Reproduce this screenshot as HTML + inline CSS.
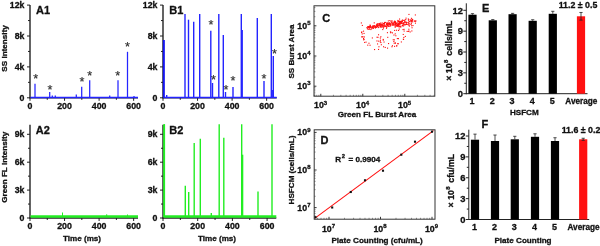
<!DOCTYPE html>
<html><head><meta charset="utf-8"><style>
html,body{margin:0;padding:0;background:#fff;}
svg{display:block;will-change:transform;filter:blur(0.35px);font-family:"Liberation Sans",sans-serif;font-weight:bold;}
text{stroke:#111;stroke-width:0.3px;}
</style></head><body>
<svg width="600" height="246" viewBox="0 0 600 246">
<rect width="600" height="246" fill="#fff"/>
<line x1="30" y1="5" x2="30" y2="98.3" stroke="#222" stroke-width="1.4" />
<line x1="27" y1="97.8" x2="30" y2="97.8" stroke="#222" stroke-width="1" />
<text x="24.5" y="100.8" font-size="8.8" text-anchor="end" fill="#111" >0</text>
<line x1="28" y1="82.35" x2="30" y2="82.35" stroke="#222" stroke-width="1" />
<line x1="27" y1="66.9" x2="30" y2="66.9" stroke="#222" stroke-width="1" />
<text x="24.5" y="69.9" font-size="8.8" text-anchor="end" fill="#111" >4k</text>
<line x1="28" y1="51.45" x2="30" y2="51.45" stroke="#222" stroke-width="1" />
<line x1="27" y1="36.0" x2="30" y2="36.0" stroke="#222" stroke-width="1" />
<text x="24.5" y="39.0" font-size="8.8" text-anchor="end" fill="#111" >8k</text>
<line x1="28" y1="20.55" x2="30" y2="20.55" stroke="#222" stroke-width="1" />
<line x1="27" y1="5.1000000000000085" x2="30" y2="5.1000000000000085" stroke="#222" stroke-width="1" />
<text x="24.5" y="8.100000000000009" font-size="8.8" text-anchor="end" fill="#111" >12k</text>
<line x1="29.5" y1="97.8" x2="138" y2="97.8" stroke="#222" stroke-width="1.3" />
<line x1="30.0" y1="97.8" x2="30.0" y2="100.8" stroke="#222" stroke-width="1" />
<line x1="47.275" y1="97.8" x2="47.275" y2="99.8" stroke="#222" stroke-width="1" />
<text x="30.0" y="109.0" font-size="8.8" text-anchor="middle" fill="#111" >0</text>
<line x1="64.55" y1="97.8" x2="64.55" y2="100.8" stroke="#222" stroke-width="1" />
<line x1="81.82499999999999" y1="97.8" x2="81.82499999999999" y2="99.8" stroke="#222" stroke-width="1" />
<text x="64.55" y="109.0" font-size="8.8" text-anchor="middle" fill="#111" >200</text>
<line x1="99.1" y1="97.8" x2="99.1" y2="100.8" stroke="#222" stroke-width="1" />
<line x1="116.375" y1="97.8" x2="116.375" y2="99.8" stroke="#222" stroke-width="1" />
<text x="99.1" y="109.0" font-size="8.8" text-anchor="middle" fill="#111" >400</text>
<line x1="133.64999999999998" y1="97.8" x2="133.64999999999998" y2="100.8" stroke="#222" stroke-width="1" />
<text x="133.64999999999998" y="109.0" font-size="8.8" text-anchor="middle" fill="#111" >600</text>
<line x1="30.5" y1="97.4" x2="138" y2="97.4" stroke="#2424ff" stroke-width="1.5" />
<line x1="35" y1="97.8" x2="35" y2="83.7" stroke="#2424ff" stroke-width="1.25" />
<line x1="49.7" y1="97.8" x2="49.7" y2="92" stroke="#2424ff" stroke-width="1.25" />
<line x1="52.3" y1="97.8" x2="52.3" y2="95.6" stroke="#2424ff" stroke-width="1.25" />
<line x1="55.3" y1="97.8" x2="55.3" y2="95.6" stroke="#2424ff" stroke-width="1.25" />
<line x1="76.3" y1="97.8" x2="76.3" y2="94.5" stroke="#2424ff" stroke-width="1.25" />
<line x1="81.7" y1="97.8" x2="81.7" y2="86.7" stroke="#2424ff" stroke-width="1.25" />
<line x1="89.7" y1="97.8" x2="89.7" y2="80.2" stroke="#2424ff" stroke-width="1.25" />
<line x1="109.7" y1="97.8" x2="109.7" y2="95.5" stroke="#2424ff" stroke-width="1.25" />
<line x1="118" y1="97.8" x2="118" y2="80.2" stroke="#2424ff" stroke-width="1.25" />
<line x1="127.5" y1="97.8" x2="127.5" y2="51.8" stroke="#2424ff" stroke-width="1.25" />
<line x1="134" y1="97.8" x2="134" y2="96" stroke="#2424ff" stroke-width="1.25" />
<text x="35.7" y="82.6" font-size="12.8" text-anchor="middle" fill="#333" font-weight="normal" style="stroke-width:0.12px">*</text>
<text x="50" y="93.6" font-size="12.8" text-anchor="middle" fill="#333" font-weight="normal" style="stroke-width:0.12px">*</text>
<text x="82" y="86.3" font-size="12.8" text-anchor="middle" fill="#333" font-weight="normal" style="stroke-width:0.12px">*</text>
<text x="89.7" y="80.1" font-size="12.8" text-anchor="middle" fill="#333" font-weight="normal" style="stroke-width:0.12px">*</text>
<text x="117.8" y="79.6" font-size="12.8" text-anchor="middle" fill="#333" font-weight="normal" style="stroke-width:0.12px">*</text>
<text x="127.5" y="51.300000000000004" font-size="12.8" text-anchor="middle" fill="#333" font-weight="normal" style="stroke-width:0.12px">*</text>
<text x="36.0" y="13.6" font-size="11.0" text-anchor="start" fill="#111" >A1</text>
<text transform="translate(7.0,48.5) rotate(-90)" font-size="8.1" text-anchor="middle" fill="#111">SS Intensity</text>
<line x1="163" y1="5" x2="163" y2="98.3" stroke="#222" stroke-width="1.4" />
<line x1="160" y1="97.8" x2="163" y2="97.8" stroke="#222" stroke-width="1" />
<text x="157.5" y="100.8" font-size="8.8" text-anchor="end" fill="#111" >0</text>
<line x1="161" y1="82.35" x2="163" y2="82.35" stroke="#222" stroke-width="1" />
<line x1="160" y1="66.9" x2="163" y2="66.9" stroke="#222" stroke-width="1" />
<text x="157.5" y="69.9" font-size="8.8" text-anchor="end" fill="#111" >4k</text>
<line x1="161" y1="51.45" x2="163" y2="51.45" stroke="#222" stroke-width="1" />
<line x1="160" y1="36.0" x2="163" y2="36.0" stroke="#222" stroke-width="1" />
<text x="157.5" y="39.0" font-size="8.8" text-anchor="end" fill="#111" >8k</text>
<line x1="161" y1="20.55" x2="163" y2="20.55" stroke="#222" stroke-width="1" />
<line x1="160" y1="5.1000000000000085" x2="163" y2="5.1000000000000085" stroke="#222" stroke-width="1" />
<text x="157.5" y="8.100000000000009" font-size="8.8" text-anchor="end" fill="#111" >12k</text>
<line x1="162.5" y1="97.8" x2="276.7" y2="97.8" stroke="#222" stroke-width="1.3" />
<line x1="163.0" y1="97.8" x2="163.0" y2="100.8" stroke="#222" stroke-width="1" />
<line x1="180.275" y1="97.8" x2="180.275" y2="99.8" stroke="#222" stroke-width="1" />
<text x="163.0" y="109.0" font-size="8.8" text-anchor="middle" fill="#111" >0</text>
<line x1="197.55" y1="97.8" x2="197.55" y2="100.8" stroke="#222" stroke-width="1" />
<line x1="214.82500000000002" y1="97.8" x2="214.82500000000002" y2="99.8" stroke="#222" stroke-width="1" />
<text x="197.55" y="109.0" font-size="8.8" text-anchor="middle" fill="#111" >200</text>
<line x1="232.1" y1="97.8" x2="232.1" y2="100.8" stroke="#222" stroke-width="1" />
<line x1="249.375" y1="97.8" x2="249.375" y2="99.8" stroke="#222" stroke-width="1" />
<text x="232.1" y="109.0" font-size="8.8" text-anchor="middle" fill="#111" >400</text>
<line x1="266.65" y1="97.8" x2="266.65" y2="100.8" stroke="#222" stroke-width="1" />
<text x="266.65" y="109.0" font-size="8.8" text-anchor="middle" fill="#111" >600</text>
<line x1="163.5" y1="97.4" x2="276.7" y2="97.4" stroke="#2424ff" stroke-width="1.5" />
<line x1="163.7" y1="97.8" x2="163.7" y2="40" stroke="#2424ff" stroke-width="1.4" />
<line x1="166.7" y1="97.8" x2="166.7" y2="95" stroke="#2424ff" stroke-width="1.4" />
<line x1="185" y1="97.8" x2="185" y2="14" stroke="#2424ff" stroke-width="1.4" />
<line x1="188.5" y1="97.8" x2="188.5" y2="19.7" stroke="#2424ff" stroke-width="1.4" />
<line x1="193.7" y1="97.8" x2="193.7" y2="21.7" stroke="#2424ff" stroke-width="1.4" />
<line x1="199.7" y1="97.8" x2="199.7" y2="14" stroke="#2424ff" stroke-width="1.4" />
<line x1="210.8" y1="97.8" x2="210.8" y2="30.8" stroke="#2424ff" stroke-width="1.4" />
<line x1="212.5" y1="97.8" x2="212.5" y2="83" stroke="#2424ff" stroke-width="1.4" />
<line x1="218.8" y1="97.8" x2="218.8" y2="14" stroke="#2424ff" stroke-width="1.4" />
<line x1="223.3" y1="97.8" x2="223.3" y2="35" stroke="#2424ff" stroke-width="1.4" />
<line x1="225.5" y1="97.8" x2="225.5" y2="92" stroke="#2424ff" stroke-width="1.4" />
<line x1="233" y1="97.8" x2="233" y2="87" stroke="#2424ff" stroke-width="1.4" />
<line x1="241.3" y1="97.8" x2="241.3" y2="14" stroke="#2424ff" stroke-width="1.4" />
<line x1="242.2" y1="97.8" x2="242.2" y2="30" stroke="#2424ff" stroke-width="1.4" />
<line x1="257.3" y1="97.8" x2="257.3" y2="18" stroke="#2424ff" stroke-width="1.4" />
<line x1="264" y1="97.8" x2="264" y2="81" stroke="#2424ff" stroke-width="1.4" />
<line x1="271.3" y1="97.8" x2="271.3" y2="14" stroke="#2424ff" stroke-width="1.4" />
<line x1="272.2" y1="97.8" x2="272.2" y2="90" stroke="#2424ff" stroke-width="1.4" />
<line x1="273.3" y1="97.8" x2="273.3" y2="56" stroke="#2424ff" stroke-width="1.4" />
<line x1="163.8" y1="40" x2="163.8" y2="97.8" stroke="#1414f0" stroke-width="1.9" />
<text x="211" y="28.6" font-size="12.8" text-anchor="middle" fill="#333" font-weight="normal" style="stroke-width:0.12px">*</text>
<text x="213.5" y="83.6" font-size="12.8" text-anchor="middle" fill="#333" font-weight="normal" style="stroke-width:0.12px">*</text>
<text x="226" y="93.6" font-size="12.8" text-anchor="middle" fill="#333" font-weight="normal" style="stroke-width:0.12px">*</text>
<text x="233" y="84.6" font-size="12.8" text-anchor="middle" fill="#333" font-weight="normal" style="stroke-width:0.12px">*</text>
<text x="264" y="82.6" font-size="12.8" text-anchor="middle" fill="#333" font-weight="normal" style="stroke-width:0.12px">*</text>
<text x="274.5" y="57.6" font-size="12.8" text-anchor="middle" fill="#333" font-weight="normal" style="stroke-width:0.12px">*</text>
<text x="169.2" y="13.6" font-size="11.0" text-anchor="start" fill="#111" >B1</text>
<line x1="30" y1="124.7" x2="30" y2="218.5" stroke="#222" stroke-width="1.4" />
<line x1="27" y1="218.0" x2="30" y2="218.0" stroke="#222" stroke-width="1" />
<text x="24.5" y="221.0" font-size="8.8" text-anchor="end" fill="#111" >0</text>
<line x1="28" y1="204.05" x2="30" y2="204.05" stroke="#222" stroke-width="1" />
<line x1="27" y1="190.1" x2="30" y2="190.1" stroke="#222" stroke-width="1" />
<text x="24.5" y="193.1" font-size="8.8" text-anchor="end" fill="#111" >3k</text>
<line x1="28" y1="176.15" x2="30" y2="176.15" stroke="#222" stroke-width="1" />
<line x1="27" y1="162.2" x2="30" y2="162.2" stroke="#222" stroke-width="1" />
<text x="24.5" y="165.2" font-size="8.8" text-anchor="end" fill="#111" >6k</text>
<line x1="28" y1="148.25" x2="30" y2="148.25" stroke="#222" stroke-width="1" />
<line x1="27" y1="134.3" x2="30" y2="134.3" stroke="#222" stroke-width="1" />
<text x="24.5" y="137.3" font-size="8.8" text-anchor="end" fill="#111" >9k</text>
<line x1="29.5" y1="218" x2="138" y2="218" stroke="#222" stroke-width="1.3" />
<line x1="30.0" y1="218" x2="30.0" y2="221" stroke="#222" stroke-width="1" />
<line x1="47.275" y1="218" x2="47.275" y2="220" stroke="#222" stroke-width="1" />
<text x="30.0" y="229.2" font-size="8.8" text-anchor="middle" fill="#111" >0</text>
<line x1="64.55" y1="218" x2="64.55" y2="221" stroke="#222" stroke-width="1" />
<line x1="81.82499999999999" y1="218" x2="81.82499999999999" y2="220" stroke="#222" stroke-width="1" />
<text x="64.55" y="229.2" font-size="8.8" text-anchor="middle" fill="#111" >200</text>
<line x1="99.1" y1="218" x2="99.1" y2="221" stroke="#222" stroke-width="1" />
<line x1="116.375" y1="218" x2="116.375" y2="220" stroke="#222" stroke-width="1" />
<text x="99.1" y="229.2" font-size="8.8" text-anchor="middle" fill="#111" >400</text>
<line x1="133.64999999999998" y1="218" x2="133.64999999999998" y2="221" stroke="#222" stroke-width="1" />
<text x="133.64999999999998" y="229.2" font-size="8.8" text-anchor="middle" fill="#111" >600</text>
<line x1="30.5" y1="216.5" x2="138" y2="216.5" stroke="#22ee22" stroke-width="2.3" />
<line x1="62.5" y1="217" x2="62.5" y2="212.5" stroke="#22ee22" stroke-width="1" />
<line x1="106.7" y1="217" x2="106.7" y2="214.3" stroke="#22ee22" stroke-width="1" />
<line x1="127.5" y1="217" x2="127.5" y2="214.5" stroke="#22ee22" stroke-width="1" />
<text x="35.7" y="134.3" font-size="11.0" text-anchor="start" fill="#111" >A2</text>
<text transform="translate(7.3,167.3) rotate(-90)" font-size="8.1" text-anchor="middle" fill="#111">Green FL Intensity</text>
<text x="82" y="241.3" font-size="8.1" text-anchor="middle" fill="#111" >Time (ms)</text>
<line x1="163" y1="124.7" x2="163" y2="218.5" stroke="#222" stroke-width="1.4" />
<line x1="160" y1="218.0" x2="163" y2="218.0" stroke="#222" stroke-width="1" />
<text x="157.5" y="221.0" font-size="8.8" text-anchor="end" fill="#111" >0</text>
<line x1="161" y1="204.05" x2="163" y2="204.05" stroke="#222" stroke-width="1" />
<line x1="160" y1="190.1" x2="163" y2="190.1" stroke="#222" stroke-width="1" />
<text x="157.5" y="193.1" font-size="8.8" text-anchor="end" fill="#111" >3k</text>
<line x1="161" y1="176.15" x2="163" y2="176.15" stroke="#222" stroke-width="1" />
<line x1="160" y1="162.2" x2="163" y2="162.2" stroke="#222" stroke-width="1" />
<text x="157.5" y="165.2" font-size="8.8" text-anchor="end" fill="#111" >6k</text>
<line x1="161" y1="148.25" x2="163" y2="148.25" stroke="#222" stroke-width="1" />
<line x1="160" y1="134.3" x2="163" y2="134.3" stroke="#222" stroke-width="1" />
<text x="157.5" y="137.3" font-size="8.8" text-anchor="end" fill="#111" >9k</text>
<line x1="162.5" y1="218" x2="276.3" y2="218" stroke="#222" stroke-width="1.3" />
<line x1="163.0" y1="218" x2="163.0" y2="221" stroke="#222" stroke-width="1" />
<line x1="180.35" y1="218" x2="180.35" y2="220" stroke="#222" stroke-width="1" />
<text x="163.0" y="229.2" font-size="8.8" text-anchor="middle" fill="#111" >0</text>
<line x1="197.7" y1="218" x2="197.7" y2="221" stroke="#222" stroke-width="1" />
<line x1="215.04999999999998" y1="218" x2="215.04999999999998" y2="220" stroke="#222" stroke-width="1" />
<text x="197.7" y="229.2" font-size="8.8" text-anchor="middle" fill="#111" >200</text>
<line x1="232.4" y1="218" x2="232.4" y2="221" stroke="#222" stroke-width="1" />
<line x1="249.75" y1="218" x2="249.75" y2="220" stroke="#222" stroke-width="1" />
<text x="232.4" y="229.2" font-size="8.8" text-anchor="middle" fill="#111" >400</text>
<line x1="267.1" y1="218" x2="267.1" y2="221" stroke="#222" stroke-width="1" />
<text x="267.1" y="229.2" font-size="8.8" text-anchor="middle" fill="#111" >600</text>
<line x1="163.5" y1="216.5" x2="276.3" y2="216.5" stroke="#22ee22" stroke-width="2.3" />
<line x1="164.3" y1="217" x2="164.3" y2="124.3" stroke="#22ee22" stroke-width="1.4" />
<line x1="185.3" y1="217" x2="185.3" y2="185.7" stroke="#22ee22" stroke-width="1.4" />
<line x1="188.7" y1="217" x2="188.7" y2="192" stroke="#22ee22" stroke-width="1.4" />
<line x1="194.2" y1="217" x2="194.2" y2="143" stroke="#22ee22" stroke-width="1.4" />
<line x1="200.3" y1="217" x2="200.3" y2="138.8" stroke="#22ee22" stroke-width="1.4" />
<line x1="211.3" y1="217" x2="211.3" y2="213" stroke="#22ee22" stroke-width="1.4" />
<line x1="219.2" y1="217" x2="219.2" y2="124.3" stroke="#22ee22" stroke-width="1.4" />
<line x1="223.8" y1="217" x2="223.8" y2="137.7" stroke="#22ee22" stroke-width="1.4" />
<line x1="241.7" y1="217" x2="241.7" y2="124.3" stroke="#22ee22" stroke-width="1.4" />
<line x1="242.6" y1="217" x2="242.6" y2="154.7" stroke="#22ee22" stroke-width="1.4" />
<line x1="258" y1="217" x2="258" y2="191.5" stroke="#22ee22" stroke-width="1.4" />
<line x1="272" y1="217" x2="272" y2="124.3" stroke="#22ee22" stroke-width="1.4" />
<line x1="164.2" y1="124.3" x2="164.2" y2="217" stroke="#22ee22" stroke-width="1.8" />
<text x="169.2" y="133.8" font-size="11.0" text-anchor="start" fill="#111" >B2</text>
<text x="217" y="241.3" font-size="8.1" text-anchor="middle" fill="#111" >Time (ms)</text>
<rect x="314" y="5.8" width="120.80000000000001" height="90.4" fill="none" stroke="#333" stroke-width="1"/>
<line x1="320.8" y1="96.2" x2="320.8" y2="93.8" stroke="#222" stroke-width="0.9" />
<text x="320.6" y="108.4" font-size="8.8" text-anchor="middle" fill="#111">10<tspan dy="-3.8" font-size="6">3</tspan></text>
<line x1="314" y1="86.2" x2="316.4" y2="86.2" stroke="#222" stroke-width="0.9" />
<text x="310.5" y="89.10000000000001" font-size="8.8" text-anchor="end" fill="#111">10<tspan dy="-3.8" font-size="6">3</tspan></text>
<line x1="362.8" y1="96.2" x2="362.8" y2="93.8" stroke="#222" stroke-width="0.9" />
<text x="362.6" y="108.4" font-size="8.8" text-anchor="middle" fill="#111">10<tspan dy="-3.8" font-size="6">4</tspan></text>
<line x1="314" y1="56.0" x2="316.4" y2="56.0" stroke="#222" stroke-width="0.9" />
<text x="310.5" y="58.9" font-size="8.8" text-anchor="end" fill="#111">10<tspan dy="-3.8" font-size="6">4</tspan></text>
<line x1="404.8" y1="96.2" x2="404.8" y2="93.8" stroke="#222" stroke-width="0.9" />
<text x="404.6" y="108.4" font-size="8.8" text-anchor="middle" fill="#111">10<tspan dy="-3.8" font-size="6">5</tspan></text>
<line x1="314" y1="25.800000000000004" x2="316.4" y2="25.800000000000004" stroke="#222" stroke-width="0.9" />
<text x="310.5" y="28.700000000000003" font-size="8.8" text-anchor="end" fill="#111">10<tspan dy="-3.8" font-size="6">5</tspan></text>
<line x1="314" y1="95.29110586905223" x2="315.4" y2="95.29110586905223" stroke="#444" stroke-width="0.6" />
<line x1="314" y1="92.89983223841396" x2="315.4" y2="92.89983223841396" stroke="#444" stroke-width="0.6" />
<line x1="314.2941176805988" y1="96.2" x2="314.2941176805988" y2="94.8" stroke="#444" stroke-width="0.6" />
<line x1="314" y1="90.87803919156944" x2="315.4" y2="90.87803919156944" stroke="#444" stroke-width="0.6" />
<line x1="316.72977945366165" y1="96.2" x2="316.72977945366165" y2="94.8" stroke="#444" stroke-width="0.6" />
<line x1="314" y1="89.1266823928433" x2="315.4" y2="89.1266823928433" stroke="#444" stroke-width="0.6" />
<line x1="318.87818539645167" y1="96.2" x2="318.87818539645167" y2="94.8" stroke="#444" stroke-width="0.6" />
<line x1="314" y1="87.5818762149324" x2="315.4" y2="87.5818762149324" stroke="#444" stroke-width="0.6" />
<line x1="333.4432598178872" y1="96.2" x2="333.4432598178872" y2="94.8" stroke="#444" stroke-width="0.6" />
<line x1="314" y1="77.10889413094777" x2="315.4" y2="77.10889413094777" stroke="#444" stroke-width="0.6" />
<line x1="340.83909269822584" y1="96.2" x2="340.83909269822584" y2="94.8" stroke="#444" stroke-width="0.6" />
<line x1="314" y1="71.7909381074662" x2="315.4" y2="71.7909381074662" stroke="#444" stroke-width="0.6" />
<line x1="346.08651963577444" y1="96.2" x2="346.08651963577444" y2="94.8" stroke="#444" stroke-width="0.6" />
<line x1="314" y1="68.01778826189553" x2="315.4" y2="68.01778826189553" stroke="#444" stroke-width="0.6" />
<line x1="350.1567401821128" y1="96.2" x2="350.1567401821128" y2="94.8" stroke="#444" stroke-width="0.6" />
<line x1="314" y1="65.09110586905223" x2="315.4" y2="65.09110586905223" stroke="#444" stroke-width="0.6" />
<line x1="353.48235251611305" y1="96.2" x2="353.48235251611305" y2="94.8" stroke="#444" stroke-width="0.6" />
<line x1="314" y1="62.69983223841396" x2="315.4" y2="62.69983223841396" stroke="#444" stroke-width="0.6" />
<line x1="356.2941176805988" y1="96.2" x2="356.2941176805988" y2="94.8" stroke="#444" stroke-width="0.6" />
<line x1="314" y1="60.67803919156945" x2="315.4" y2="60.67803919156945" stroke="#444" stroke-width="0.6" />
<line x1="358.72977945366165" y1="96.2" x2="358.72977945366165" y2="94.8" stroke="#444" stroke-width="0.6" />
<line x1="314" y1="58.926682392843304" x2="315.4" y2="58.926682392843304" stroke="#444" stroke-width="0.6" />
<line x1="360.87818539645167" y1="96.2" x2="360.87818539645167" y2="94.8" stroke="#444" stroke-width="0.6" />
<line x1="314" y1="57.38187621493239" x2="315.4" y2="57.38187621493239" stroke="#444" stroke-width="0.6" />
<line x1="375.4432598178872" y1="96.2" x2="375.4432598178872" y2="94.8" stroke="#444" stroke-width="0.6" />
<line x1="314" y1="46.90889413094777" x2="315.4" y2="46.90889413094777" stroke="#444" stroke-width="0.6" />
<line x1="382.83909269822584" y1="96.2" x2="382.83909269822584" y2="94.8" stroke="#444" stroke-width="0.6" />
<line x1="314" y1="41.5909381074662" x2="315.4" y2="41.5909381074662" stroke="#444" stroke-width="0.6" />
<line x1="388.08651963577444" y1="96.2" x2="388.08651963577444" y2="94.8" stroke="#444" stroke-width="0.6" />
<line x1="314" y1="37.81778826189554" x2="315.4" y2="37.81778826189554" stroke="#444" stroke-width="0.6" />
<line x1="392.1567401821128" y1="96.2" x2="392.1567401821128" y2="94.8" stroke="#444" stroke-width="0.6" />
<line x1="314" y1="34.89110586905224" x2="315.4" y2="34.89110586905224" stroke="#444" stroke-width="0.6" />
<line x1="395.48235251611305" y1="96.2" x2="395.48235251611305" y2="94.8" stroke="#444" stroke-width="0.6" />
<line x1="314" y1="32.499832238413966" x2="315.4" y2="32.499832238413966" stroke="#444" stroke-width="0.6" />
<line x1="398.2941176805988" y1="96.2" x2="398.2941176805988" y2="94.8" stroke="#444" stroke-width="0.6" />
<line x1="314" y1="30.478039191569444" x2="315.4" y2="30.478039191569444" stroke="#444" stroke-width="0.6" />
<line x1="400.72977945366165" y1="96.2" x2="400.72977945366165" y2="94.8" stroke="#444" stroke-width="0.6" />
<line x1="314" y1="28.72668239284331" x2="315.4" y2="28.72668239284331" stroke="#444" stroke-width="0.6" />
<line x1="402.87818539645167" y1="96.2" x2="402.87818539645167" y2="94.8" stroke="#444" stroke-width="0.6" />
<line x1="314" y1="27.181876214932394" x2="315.4" y2="27.181876214932394" stroke="#444" stroke-width="0.6" />
<line x1="417.4432598178872" y1="96.2" x2="417.4432598178872" y2="94.8" stroke="#444" stroke-width="0.6" />
<line x1="314" y1="16.70889413094777" x2="315.4" y2="16.70889413094777" stroke="#444" stroke-width="0.6" />
<line x1="424.83909269822584" y1="96.2" x2="424.83909269822584" y2="94.8" stroke="#444" stroke-width="0.6" />
<line x1="314" y1="11.390938107466198" x2="315.4" y2="11.390938107466198" stroke="#444" stroke-width="0.6" />
<line x1="430.08651963577444" y1="96.2" x2="430.08651963577444" y2="94.8" stroke="#444" stroke-width="0.6" />
<line x1="314" y1="7.617788261895541" x2="315.4" y2="7.617788261895541" stroke="#444" stroke-width="0.6" />
<line x1="434.1567401821128" y1="96.2" x2="434.1567401821128" y2="94.8" stroke="#444" stroke-width="0.6" />
<rect x="377.4" y="24.3" width="1.1" height="1.1" fill="#ff1111"/>
<rect x="383.6" y="24.3" width="1.1" height="1.1" fill="#ff1111"/>
<rect x="394.1" y="20.6" width="1.1" height="1.1" fill="#ff1111"/>
<rect x="397.3" y="19.9" width="1.1" height="1.1" fill="#ff1111"/>
<rect x="387.9" y="23.1" width="1.1" height="1.1" fill="#ff1111"/>
<rect x="401.2" y="21.0" width="1.1" height="1.1" fill="#ff1111"/>
<rect x="395.0" y="21.8" width="1.1" height="1.1" fill="#ff1111"/>
<rect x="400.5" y="22.9" width="1.1" height="1.1" fill="#ff1111"/>
<rect x="380.6" y="25.5" width="1.1" height="1.1" fill="#ff1111"/>
<rect x="392.6" y="23.3" width="1.1" height="1.1" fill="#ff1111"/>
<rect x="368.3" y="27.0" width="1.1" height="1.1" fill="#ff1111"/>
<rect x="389.3" y="23.0" width="1.1" height="1.1" fill="#ff1111"/>
<rect x="397.5" y="25.2" width="1.1" height="1.1" fill="#ff1111"/>
<rect x="392.2" y="24.4" width="1.1" height="1.1" fill="#ff1111"/>
<rect x="371.9" y="27.5" width="1.1" height="1.1" fill="#ff1111"/>
<rect x="375.7" y="26.2" width="1.1" height="1.1" fill="#ff1111"/>
<rect x="371.7" y="26.8" width="1.1" height="1.1" fill="#ff1111"/>
<rect x="381.8" y="22.5" width="1.1" height="1.1" fill="#ff1111"/>
<rect x="381.1" y="24.1" width="1.1" height="1.1" fill="#ff1111"/>
<rect x="367.3" y="26.3" width="1.1" height="1.1" fill="#ff1111"/>
<rect x="375.3" y="26.9" width="1.1" height="1.1" fill="#ff1111"/>
<rect x="394.2" y="21.2" width="1.1" height="1.1" fill="#ff1111"/>
<rect x="379.8" y="25.7" width="1.1" height="1.1" fill="#ff1111"/>
<rect x="390.1" y="23.7" width="1.1" height="1.1" fill="#ff1111"/>
<rect x="394.7" y="22.6" width="1.1" height="1.1" fill="#ff1111"/>
<rect x="398.1" y="23.4" width="1.1" height="1.1" fill="#ff1111"/>
<rect x="374.4" y="26.0" width="1.1" height="1.1" fill="#ff1111"/>
<rect x="368.8" y="26.0" width="1.1" height="1.1" fill="#ff1111"/>
<rect x="385.8" y="25.6" width="1.1" height="1.1" fill="#ff1111"/>
<rect x="386.8" y="22.6" width="1.1" height="1.1" fill="#ff1111"/>
<rect x="390.1" y="25.3" width="1.1" height="1.1" fill="#ff1111"/>
<rect x="389.3" y="20.0" width="1.1" height="1.1" fill="#ff1111"/>
<rect x="380.1" y="25.9" width="1.1" height="1.1" fill="#ff1111"/>
<rect x="370.1" y="26.4" width="1.1" height="1.1" fill="#ff1111"/>
<rect x="384.1" y="22.5" width="1.1" height="1.1" fill="#ff1111"/>
<rect x="401.9" y="19.5" width="1.1" height="1.1" fill="#ff1111"/>
<rect x="400.8" y="20.8" width="1.1" height="1.1" fill="#ff1111"/>
<rect x="377.8" y="27.0" width="1.1" height="1.1" fill="#ff1111"/>
<rect x="369.0" y="27.4" width="1.1" height="1.1" fill="#ff1111"/>
<rect x="380.5" y="26.7" width="1.1" height="1.1" fill="#ff1111"/>
<rect x="389.4" y="23.9" width="1.1" height="1.1" fill="#ff1111"/>
<rect x="388.3" y="25.8" width="1.1" height="1.1" fill="#ff1111"/>
<rect x="379.5" y="22.8" width="1.1" height="1.1" fill="#ff1111"/>
<rect x="384.7" y="25.8" width="1.1" height="1.1" fill="#ff1111"/>
<rect x="408.2" y="22.5" width="1.1" height="1.1" fill="#ff1111"/>
<rect x="396.2" y="24.6" width="1.1" height="1.1" fill="#ff1111"/>
<rect x="398.5" y="22.7" width="1.1" height="1.1" fill="#ff1111"/>
<rect x="392.6" y="24.7" width="1.1" height="1.1" fill="#ff1111"/>
<rect x="388.2" y="22.3" width="1.1" height="1.1" fill="#ff1111"/>
<rect x="380.2" y="25.4" width="1.1" height="1.1" fill="#ff1111"/>
<rect x="397.8" y="23.9" width="1.1" height="1.1" fill="#ff1111"/>
<rect x="369.3" y="26.6" width="1.1" height="1.1" fill="#ff1111"/>
<rect x="372.9" y="27.8" width="1.1" height="1.1" fill="#ff1111"/>
<rect x="379.0" y="23.1" width="1.1" height="1.1" fill="#ff1111"/>
<rect x="375.1" y="25.9" width="1.1" height="1.1" fill="#ff1111"/>
<rect x="405.8" y="23.4" width="1.1" height="1.1" fill="#ff1111"/>
<rect x="402.5" y="23.4" width="1.1" height="1.1" fill="#ff1111"/>
<rect x="387.8" y="20.4" width="1.1" height="1.1" fill="#ff1111"/>
<rect x="380.2" y="25.4" width="1.1" height="1.1" fill="#ff1111"/>
<rect x="373.9" y="25.1" width="1.1" height="1.1" fill="#ff1111"/>
<rect x="403.4" y="19.9" width="1.1" height="1.1" fill="#ff1111"/>
<rect x="383.0" y="22.9" width="1.1" height="1.1" fill="#ff1111"/>
<rect x="382.7" y="24.6" width="1.1" height="1.1" fill="#ff1111"/>
<rect x="397.6" y="23.7" width="1.1" height="1.1" fill="#ff1111"/>
<rect x="372.6" y="26.0" width="1.1" height="1.1" fill="#ff1111"/>
<rect x="388.8" y="22.7" width="1.1" height="1.1" fill="#ff1111"/>
<rect x="400.0" y="23.3" width="1.1" height="1.1" fill="#ff1111"/>
<rect x="387.5" y="23.8" width="1.1" height="1.1" fill="#ff1111"/>
<rect x="394.5" y="22.6" width="1.1" height="1.1" fill="#ff1111"/>
<rect x="398.2" y="20.4" width="1.1" height="1.1" fill="#ff1111"/>
<rect x="374.9" y="27.4" width="1.1" height="1.1" fill="#ff1111"/>
<rect x="383.5" y="25.8" width="1.1" height="1.1" fill="#ff1111"/>
<rect x="379.5" y="26.5" width="1.1" height="1.1" fill="#ff1111"/>
<rect x="381.8" y="24.5" width="1.1" height="1.1" fill="#ff1111"/>
<rect x="366.4" y="27.0" width="1.1" height="1.1" fill="#ff1111"/>
<rect x="369.4" y="27.3" width="1.1" height="1.1" fill="#ff1111"/>
<rect x="378.1" y="25.2" width="1.1" height="1.1" fill="#ff1111"/>
<rect x="394.4" y="20.9" width="1.1" height="1.1" fill="#ff1111"/>
<rect x="405.9" y="23.9" width="1.1" height="1.1" fill="#ff1111"/>
<rect x="401.6" y="20.7" width="1.1" height="1.1" fill="#ff1111"/>
<rect x="378.2" y="23.2" width="1.1" height="1.1" fill="#ff1111"/>
<rect x="397.3" y="21.1" width="1.1" height="1.1" fill="#ff1111"/>
<rect x="383.9" y="22.8" width="1.1" height="1.1" fill="#ff1111"/>
<rect x="389.1" y="23.1" width="1.1" height="1.1" fill="#ff1111"/>
<rect x="395.0" y="22.8" width="1.1" height="1.1" fill="#ff1111"/>
<rect x="404.4" y="21.4" width="1.1" height="1.1" fill="#ff1111"/>
<rect x="386.4" y="22.9" width="1.1" height="1.1" fill="#ff1111"/>
<rect x="378.6" y="25.2" width="1.1" height="1.1" fill="#ff1111"/>
<rect x="398.9" y="22.6" width="1.1" height="1.1" fill="#ff1111"/>
<rect x="401.5" y="20.8" width="1.1" height="1.1" fill="#ff1111"/>
<rect x="386.2" y="22.7" width="1.1" height="1.1" fill="#ff1111"/>
<rect x="404.5" y="21.7" width="1.1" height="1.1" fill="#ff1111"/>
<rect x="397.1" y="23.9" width="1.1" height="1.1" fill="#ff1111"/>
<rect x="385.9" y="27.4" width="1.1" height="1.1" fill="#ff1111"/>
<rect x="384.5" y="24.8" width="1.1" height="1.1" fill="#ff1111"/>
<rect x="408.8" y="25.6" width="1.1" height="1.1" fill="#ff1111"/>
<rect x="394.0" y="22.0" width="1.1" height="1.1" fill="#ff1111"/>
<rect x="366.8" y="28.1" width="1.1" height="1.1" fill="#ff1111"/>
<rect x="386.5" y="26.3" width="1.1" height="1.1" fill="#ff1111"/>
<rect x="384.8" y="25.9" width="1.1" height="1.1" fill="#ff1111"/>
<rect x="388.4" y="25.9" width="1.1" height="1.1" fill="#ff1111"/>
<rect x="383.4" y="23.0" width="1.1" height="1.1" fill="#ff1111"/>
<rect x="398.1" y="23.5" width="1.1" height="1.1" fill="#ff1111"/>
<rect x="389.2" y="23.5" width="1.1" height="1.1" fill="#ff1111"/>
<rect x="388.5" y="24.4" width="1.1" height="1.1" fill="#ff1111"/>
<rect x="376.9" y="26.0" width="1.1" height="1.1" fill="#ff1111"/>
<rect x="401.5" y="22.6" width="1.1" height="1.1" fill="#ff1111"/>
<rect x="387.0" y="24.7" width="1.1" height="1.1" fill="#ff1111"/>
<rect x="381.2" y="23.6" width="1.1" height="1.1" fill="#ff1111"/>
<rect x="396.8" y="23.9" width="1.1" height="1.1" fill="#ff1111"/>
<rect x="390.9" y="22.3" width="1.1" height="1.1" fill="#ff1111"/>
<rect x="370.4" y="26.8" width="1.1" height="1.1" fill="#ff1111"/>
<rect x="405.2" y="19.0" width="1.1" height="1.1" fill="#ff1111"/>
<rect x="390.5" y="23.4" width="1.1" height="1.1" fill="#ff1111"/>
<rect x="372.8" y="25.4" width="1.1" height="1.1" fill="#ff1111"/>
<rect x="372.4" y="25.3" width="1.1" height="1.1" fill="#ff1111"/>
<rect x="388.5" y="23.8" width="1.1" height="1.1" fill="#ff1111"/>
<rect x="385.8" y="24.2" width="1.1" height="1.1" fill="#ff1111"/>
<rect x="386.9" y="22.6" width="1.1" height="1.1" fill="#ff1111"/>
<rect x="377.2" y="23.2" width="1.1" height="1.1" fill="#ff1111"/>
<rect x="394.9" y="24.5" width="1.1" height="1.1" fill="#ff1111"/>
<rect x="381.3" y="24.6" width="1.1" height="1.1" fill="#ff1111"/>
<rect x="392.1" y="21.6" width="1.1" height="1.1" fill="#ff1111"/>
<rect x="380.3" y="22.5" width="1.1" height="1.1" fill="#ff1111"/>
<rect x="367.9" y="26.2" width="1.1" height="1.1" fill="#ff1111"/>
<rect x="373.7" y="22.3" width="1.1" height="1.1" fill="#ff1111"/>
<rect x="386.8" y="24.8" width="1.1" height="1.1" fill="#ff1111"/>
<rect x="374.7" y="25.5" width="1.1" height="1.1" fill="#ff1111"/>
<rect x="371.8" y="26.3" width="1.1" height="1.1" fill="#ff1111"/>
<rect x="377.5" y="26.3" width="1.1" height="1.1" fill="#ff1111"/>
<rect x="386.2" y="23.8" width="1.1" height="1.1" fill="#ff1111"/>
<rect x="367.7" y="27.2" width="1.1" height="1.1" fill="#ff1111"/>
<rect x="383.5" y="25.3" width="1.1" height="1.1" fill="#ff1111"/>
<rect x="386.6" y="23.8" width="1.1" height="1.1" fill="#ff1111"/>
<rect x="392.6" y="23.6" width="1.1" height="1.1" fill="#ff1111"/>
<rect x="381.6" y="24.3" width="1.1" height="1.1" fill="#ff1111"/>
<rect x="371.1" y="28.2" width="1.1" height="1.1" fill="#ff1111"/>
<rect x="390.5" y="20.8" width="1.1" height="1.1" fill="#ff1111"/>
<rect x="398.0" y="20.9" width="1.1" height="1.1" fill="#ff1111"/>
<rect x="389.1" y="22.4" width="1.1" height="1.1" fill="#ff1111"/>
<rect x="381.5" y="24.8" width="1.1" height="1.1" fill="#ff1111"/>
<rect x="374.0" y="26.5" width="1.1" height="1.1" fill="#ff1111"/>
<rect x="382.1" y="25.4" width="1.1" height="1.1" fill="#ff1111"/>
<rect x="376.5" y="24.0" width="1.1" height="1.1" fill="#ff1111"/>
<rect x="375.6" y="26.9" width="1.1" height="1.1" fill="#ff1111"/>
<rect x="376.8" y="25.2" width="1.1" height="1.1" fill="#ff1111"/>
<rect x="386.2" y="24.2" width="1.1" height="1.1" fill="#ff1111"/>
<rect x="408.3" y="24.2" width="1.1" height="1.1" fill="#ff1111"/>
<rect x="395.0" y="23.7" width="1.1" height="1.1" fill="#ff1111"/>
<rect x="379.4" y="23.7" width="1.1" height="1.1" fill="#ff1111"/>
<rect x="376.8" y="24.4" width="1.1" height="1.1" fill="#ff1111"/>
<rect x="382.9" y="27.6" width="1.1" height="1.1" fill="#ff1111"/>
<rect x="400.8" y="22.2" width="1.1" height="1.1" fill="#ff1111"/>
<rect x="367.5" y="26.0" width="1.1" height="1.1" fill="#ff1111"/>
<rect x="383.4" y="26.2" width="1.1" height="1.1" fill="#ff1111"/>
<rect x="401.4" y="22.5" width="1.1" height="1.1" fill="#ff1111"/>
<rect x="391.4" y="20.2" width="1.1" height="1.1" fill="#ff1111"/>
<rect x="370.0" y="26.0" width="1.1" height="1.1" fill="#ff1111"/>
<rect x="369.2" y="26.1" width="1.1" height="1.1" fill="#ff1111"/>
<rect x="389.6" y="23.9" width="1.1" height="1.1" fill="#ff1111"/>
<rect x="396.7" y="22.4" width="1.1" height="1.1" fill="#ff1111"/>
<rect x="369.5" y="24.5" width="1.1" height="1.1" fill="#ff1111"/>
<rect x="390.8" y="21.7" width="1.1" height="1.1" fill="#ff1111"/>
<rect x="403.0" y="23.3" width="1.1" height="1.1" fill="#ff1111"/>
<rect x="378.9" y="24.4" width="1.1" height="1.1" fill="#ff1111"/>
<rect x="395.2" y="23.4" width="1.1" height="1.1" fill="#ff1111"/>
<rect x="372.6" y="25.7" width="1.1" height="1.1" fill="#ff1111"/>
<rect x="392.2" y="23.0" width="1.1" height="1.1" fill="#ff1111"/>
<rect x="376.6" y="25.2" width="1.1" height="1.1" fill="#ff1111"/>
<rect x="376.5" y="23.5" width="1.1" height="1.1" fill="#ff1111"/>
<rect x="406.0" y="21.8" width="1.1" height="1.1" fill="#ff1111"/>
<rect x="392.8" y="22.5" width="1.1" height="1.1" fill="#ff1111"/>
<rect x="402.4" y="24.5" width="1.1" height="1.1" fill="#ff1111"/>
<rect x="399.1" y="26.0" width="1.1" height="1.1" fill="#ff1111"/>
<rect x="372.0" y="26.9" width="1.1" height="1.1" fill="#ff1111"/>
<rect x="399.2" y="21.0" width="1.1" height="1.1" fill="#ff1111"/>
<rect x="381.5" y="26.4" width="1.1" height="1.1" fill="#ff1111"/>
<rect x="382.5" y="24.6" width="1.1" height="1.1" fill="#ff1111"/>
<rect x="387.3" y="24.1" width="1.1" height="1.1" fill="#ff1111"/>
<rect x="369.0" y="26.4" width="1.1" height="1.1" fill="#ff1111"/>
<rect x="396.1" y="22.8" width="1.1" height="1.1" fill="#ff1111"/>
<rect x="368.1" y="26.3" width="1.1" height="1.1" fill="#ff1111"/>
<rect x="375.9" y="24.7" width="1.1" height="1.1" fill="#ff1111"/>
<rect x="378.9" y="24.2" width="1.1" height="1.1" fill="#ff1111"/>
<rect x="368.9" y="25.8" width="1.1" height="1.1" fill="#ff1111"/>
<rect x="367.7" y="26.9" width="1.1" height="1.1" fill="#ff1111"/>
<rect x="395.7" y="25.0" width="1.1" height="1.1" fill="#ff1111"/>
<rect x="397.9" y="23.3" width="1.1" height="1.1" fill="#ff1111"/>
<rect x="369.8" y="25.0" width="1.1" height="1.1" fill="#ff1111"/>
<rect x="396.2" y="22.9" width="1.1" height="1.1" fill="#ff1111"/>
<rect x="410.5" y="21.1" width="1.1" height="1.1" fill="#ff1111"/>
<rect x="399.2" y="20.7" width="1.1" height="1.1" fill="#ff1111"/>
<rect x="376.9" y="25.2" width="1.1" height="1.1" fill="#ff1111"/>
<rect x="379.8" y="24.1" width="1.1" height="1.1" fill="#ff1111"/>
<rect x="383.8" y="24.4" width="1.1" height="1.1" fill="#ff1111"/>
<rect x="399.0" y="18.5" width="1.1" height="1.1" fill="#ff1111"/>
<rect x="385.1" y="21.9" width="1.1" height="1.1" fill="#ff1111"/>
<rect x="392.6" y="24.0" width="1.1" height="1.1" fill="#ff1111"/>
<rect x="394.6" y="26.3" width="1.1" height="1.1" fill="#ff1111"/>
<rect x="375.5" y="26.7" width="1.1" height="1.1" fill="#ff1111"/>
<rect x="386.3" y="25.9" width="1.1" height="1.1" fill="#ff1111"/>
<rect x="374.9" y="26.2" width="1.1" height="1.1" fill="#ff1111"/>
<rect x="367.8" y="27.0" width="1.1" height="1.1" fill="#ff1111"/>
<rect x="394.4" y="23.9" width="1.1" height="1.1" fill="#ff1111"/>
<rect x="400.7" y="22.5" width="1.1" height="1.1" fill="#ff1111"/>
<rect x="400.7" y="21.2" width="1.1" height="1.1" fill="#ff1111"/>
<rect x="381.7" y="26.2" width="1.1" height="1.1" fill="#ff1111"/>
<rect x="409.0" y="20.8" width="1.1" height="1.1" fill="#ff1111"/>
<rect x="386.9" y="23.2" width="1.1" height="1.1" fill="#ff1111"/>
<rect x="410.7" y="20.8" width="1.1" height="1.1" fill="#ff1111"/>
<rect x="393.4" y="21.6" width="1.1" height="1.1" fill="#ff1111"/>
<rect x="383.0" y="26.6" width="1.1" height="1.1" fill="#ff1111"/>
<rect x="401.9" y="25.0" width="1.1" height="1.1" fill="#ff1111"/>
<rect x="388.2" y="25.2" width="1.1" height="1.1" fill="#ff1111"/>
<rect x="389.9" y="25.2" width="1.1" height="1.1" fill="#ff1111"/>
<rect x="388.4" y="23.0" width="1.1" height="1.1" fill="#ff1111"/>
<rect x="380.2" y="24.4" width="1.1" height="1.1" fill="#ff1111"/>
<rect x="372.9" y="26.6" width="1.1" height="1.1" fill="#ff1111"/>
<rect x="371.8" y="26.8" width="1.1" height="1.1" fill="#ff1111"/>
<rect x="373.3" y="26.6" width="1.1" height="1.1" fill="#ff1111"/>
<rect x="379.7" y="24.3" width="1.1" height="1.1" fill="#ff1111"/>
<rect x="392.4" y="23.3" width="1.1" height="1.1" fill="#ff1111"/>
<rect x="370.6" y="26.6" width="1.1" height="1.1" fill="#ff1111"/>
<rect x="374.8" y="27.1" width="1.1" height="1.1" fill="#ff1111"/>
<rect x="378.4" y="24.4" width="1.1" height="1.1" fill="#ff1111"/>
<rect x="376.0" y="24.6" width="1.1" height="1.1" fill="#ff1111"/>
<rect x="389.1" y="23.4" width="1.1" height="1.1" fill="#ff1111"/>
<rect x="384.1" y="21.9" width="1.1" height="1.1" fill="#ff1111"/>
<rect x="393.8" y="24.6" width="1.1" height="1.1" fill="#ff1111"/>
<rect x="391.4" y="24.5" width="1.1" height="1.1" fill="#ff1111"/>
<rect x="403.3" y="19.9" width="1.1" height="1.1" fill="#ff1111"/>
<rect x="403.0" y="23.4" width="1.1" height="1.1" fill="#ff1111"/>
<rect x="408.6" y="23.1" width="1.1" height="1.1" fill="#ff1111"/>
<rect x="408.2" y="21.4" width="1.1" height="1.1" fill="#ff1111"/>
<rect x="410.8" y="19.9" width="1.1" height="1.1" fill="#ff1111"/>
<rect x="414.9" y="22.6" width="1.1" height="1.1" fill="#ff1111"/>
<rect x="395.3" y="22.5" width="1.1" height="1.1" fill="#ff1111"/>
<rect x="410.9" y="21.3" width="1.1" height="1.1" fill="#ff1111"/>
<rect x="414.2" y="20.3" width="1.1" height="1.1" fill="#ff1111"/>
<rect x="406.5" y="22.1" width="1.1" height="1.1" fill="#ff1111"/>
<rect x="405.8" y="21.8" width="1.1" height="1.1" fill="#ff1111"/>
<rect x="407.9" y="19.7" width="1.1" height="1.1" fill="#ff1111"/>
<rect x="411.9" y="19.5" width="1.1" height="1.1" fill="#ff1111"/>
<rect x="414.4" y="20.9" width="1.1" height="1.1" fill="#ff1111"/>
<rect x="398.9" y="22.3" width="1.1" height="1.1" fill="#ff1111"/>
<rect x="410.5" y="19.9" width="1.1" height="1.1" fill="#ff1111"/>
<rect x="397.0" y="25.2" width="1.1" height="1.1" fill="#ff1111"/>
<rect x="395.6" y="23.4" width="1.1" height="1.1" fill="#ff1111"/>
<rect x="400.2" y="22.7" width="1.1" height="1.1" fill="#ff1111"/>
<rect x="403.2" y="22.8" width="1.1" height="1.1" fill="#ff1111"/>
<rect x="403.3" y="22.0" width="1.1" height="1.1" fill="#ff1111"/>
<rect x="400.0" y="21.2" width="1.1" height="1.1" fill="#ff1111"/>
<rect x="399.2" y="22.9" width="1.1" height="1.1" fill="#ff1111"/>
<rect x="405.5" y="17.6" width="1.1" height="1.1" fill="#ff1111"/>
<rect x="399.0" y="23.8" width="1.1" height="1.1" fill="#ff1111"/>
<rect x="398.9" y="21.3" width="1.1" height="1.1" fill="#ff1111"/>
<rect x="397.2" y="24.0" width="1.1" height="1.1" fill="#ff1111"/>
<rect x="407.8" y="18.4" width="1.1" height="1.1" fill="#ff1111"/>
<rect x="404.3" y="21.1" width="1.1" height="1.1" fill="#ff1111"/>
<rect x="414.7" y="20.6" width="1.1" height="1.1" fill="#ff1111"/>
<rect x="401.9" y="20.4" width="1.1" height="1.1" fill="#ff1111"/>
<rect x="411.6" y="18.7" width="1.1" height="1.1" fill="#ff1111"/>
<rect x="404.3" y="21.8" width="1.1" height="1.1" fill="#ff1111"/>
<rect x="397.1" y="25.8" width="1.1" height="1.1" fill="#ff1111"/>
<rect x="412.0" y="19.1" width="1.1" height="1.1" fill="#ff1111"/>
<rect x="400.1" y="26.1" width="1.1" height="1.1" fill="#ff1111"/>
<rect x="402.3" y="22.7" width="1.1" height="1.1" fill="#ff1111"/>
<rect x="398.4" y="25.3" width="1.1" height="1.1" fill="#ff1111"/>
<rect x="394.5" y="23.4" width="1.1" height="1.1" fill="#ff1111"/>
<rect x="399.6" y="21.5" width="1.1" height="1.1" fill="#ff1111"/>
<rect x="400.8" y="20.8" width="1.1" height="1.1" fill="#ff1111"/>
<rect x="407.8" y="22.3" width="1.1" height="1.1" fill="#ff1111"/>
<rect x="408.3" y="19.0" width="1.1" height="1.1" fill="#ff1111"/>
<rect x="412.4" y="25.0" width="1.1" height="1.1" fill="#ff1111"/>
<rect x="395.6" y="25.6" width="1.1" height="1.1" fill="#ff1111"/>
<rect x="410.9" y="17.8" width="1.1" height="1.1" fill="#ff1111"/>
<rect x="397.4" y="24.7" width="1.1" height="1.1" fill="#ff1111"/>
<rect x="394.8" y="21.2" width="1.1" height="1.1" fill="#ff1111"/>
<rect x="394.7" y="26.5" width="1.1" height="1.1" fill="#ff1111"/>
<rect x="399.7" y="22.2" width="1.1" height="1.1" fill="#ff1111"/>
<rect x="396.6" y="24.3" width="1.1" height="1.1" fill="#ff1111"/>
<rect x="410.8" y="22.8" width="1.1" height="1.1" fill="#ff1111"/>
<rect x="401.7" y="25.3" width="1.1" height="1.1" fill="#ff1111"/>
<rect x="411.1" y="25.2" width="1.1" height="1.1" fill="#ff1111"/>
<rect x="398.0" y="25.4" width="1.1" height="1.1" fill="#ff1111"/>
<rect x="410.9" y="19.9" width="1.1" height="1.1" fill="#ff1111"/>
<rect x="408.5" y="24.7" width="1.1" height="1.1" fill="#ff1111"/>
<rect x="412.1" y="19.3" width="1.1" height="1.1" fill="#ff1111"/>
<rect x="398.6" y="22.3" width="1.1" height="1.1" fill="#ff1111"/>
<rect x="410.0" y="19.4" width="1.1" height="1.1" fill="#ff1111"/>
<rect x="403.7" y="24.4" width="1.1" height="1.1" fill="#ff1111"/>
<rect x="400.0" y="21.3" width="1.1" height="1.1" fill="#ff1111"/>
<rect x="399.4" y="24.6" width="1.1" height="1.1" fill="#ff1111"/>
<rect x="395.7" y="25.3" width="1.1" height="1.1" fill="#ff1111"/>
<rect x="404.3" y="23.9" width="1.1" height="1.1" fill="#ff1111"/>
<rect x="404.9" y="24.2" width="1.1" height="1.1" fill="#ff1111"/>
<rect x="405.8" y="22.4" width="1.1" height="1.1" fill="#ff1111"/>
<rect x="412.1" y="21.3" width="1.1" height="1.1" fill="#ff1111"/>
<rect x="404.3" y="19.7" width="1.1" height="1.1" fill="#ff1111"/>
<rect x="412.1" y="20.4" width="1.1" height="1.1" fill="#ff1111"/>
<rect x="380.3" y="36.2" width="1.1" height="1.1" fill="#ff1111"/>
<rect x="410.4" y="23.9" width="1.1" height="1.1" fill="#ff1111"/>
<rect x="393.8" y="39.3" width="1.1" height="1.1" fill="#ff1111"/>
<rect x="362.4" y="36.2" width="1.1" height="1.1" fill="#ff1111"/>
<rect x="396.1" y="45.5" width="1.1" height="1.1" fill="#ff1111"/>
<rect x="378.0" y="48.9" width="1.1" height="1.1" fill="#ff1111"/>
<rect x="387.2" y="36.8" width="1.1" height="1.1" fill="#ff1111"/>
<rect x="407.2" y="24.0" width="1.1" height="1.1" fill="#ff1111"/>
<rect x="397.9" y="38.1" width="1.1" height="1.1" fill="#ff1111"/>
<rect x="378.4" y="46.2" width="1.1" height="1.1" fill="#ff1111"/>
<rect x="379.8" y="37.5" width="1.1" height="1.1" fill="#ff1111"/>
<rect x="388.0" y="43.0" width="1.1" height="1.1" fill="#ff1111"/>
<rect x="371.8" y="37.4" width="1.1" height="1.1" fill="#ff1111"/>
<rect x="382.7" y="38.9" width="1.1" height="1.1" fill="#ff1111"/>
<rect x="403.5" y="28.8" width="1.1" height="1.1" fill="#ff1111"/>
<rect x="403.6" y="30.5" width="1.1" height="1.1" fill="#ff1111"/>
<rect x="386.9" y="32.1" width="1.1" height="1.1" fill="#ff1111"/>
<rect x="387.0" y="47.6" width="1.1" height="1.1" fill="#ff1111"/>
<rect x="394.7" y="42.6" width="1.1" height="1.1" fill="#ff1111"/>
<rect x="378.0" y="34.2" width="1.1" height="1.1" fill="#ff1111"/>
<rect x="376.4" y="40.4" width="1.1" height="1.1" fill="#ff1111"/>
<rect x="393.6" y="42.6" width="1.1" height="1.1" fill="#ff1111"/>
<rect x="363.0" y="37.9" width="1.1" height="1.1" fill="#ff1111"/>
<rect x="406.6" y="30.9" width="1.1" height="1.1" fill="#ff1111"/>
<rect x="363.5" y="32.9" width="1.1" height="1.1" fill="#ff1111"/>
<rect x="361.3" y="31.3" width="1.1" height="1.1" fill="#ff1111"/>
<rect x="408.4" y="30.5" width="1.1" height="1.1" fill="#ff1111"/>
<rect x="394.8" y="42.5" width="1.1" height="1.1" fill="#ff1111"/>
<rect x="407.8" y="30.9" width="1.1" height="1.1" fill="#ff1111"/>
<rect x="392.7" y="39.2" width="1.1" height="1.1" fill="#ff1111"/>
<rect x="396.8" y="38.0" width="1.1" height="1.1" fill="#ff1111"/>
<rect x="396.0" y="29.7" width="1.1" height="1.1" fill="#ff1111"/>
<rect x="395.3" y="35.2" width="1.1" height="1.1" fill="#ff1111"/>
<rect x="400.2" y="26.4" width="1.1" height="1.1" fill="#ff1111"/>
<rect x="370.3" y="29.0" width="1.1" height="1.1" fill="#ff1111"/>
<rect x="400.8" y="41.4" width="1.1" height="1.1" fill="#ff1111"/>
<rect x="394.7" y="33.3" width="1.1" height="1.1" fill="#ff1111"/>
<rect x="403.3" y="36.9" width="1.1" height="1.1" fill="#ff1111"/>
<rect x="389.9" y="31.4" width="1.1" height="1.1" fill="#ff1111"/>
<rect x="376.5" y="36.7" width="1.1" height="1.1" fill="#ff1111"/>
<rect x="377.4" y="36.8" width="1.1" height="1.1" fill="#ff1111"/>
<rect x="394.0" y="45.8" width="1.1" height="1.1" fill="#ff1111"/>
<rect x="363.8" y="36.4" width="1.1" height="1.1" fill="#ff1111"/>
<rect x="363.0" y="30.6" width="1.1" height="1.1" fill="#ff1111"/>
<rect x="402.7" y="33.9" width="1.1" height="1.1" fill="#ff1111"/>
<rect x="408.3" y="28.7" width="1.1" height="1.1" fill="#ff1111"/>
<rect x="361.7" y="33.4" width="1.1" height="1.1" fill="#ff1111"/>
<rect x="391.4" y="46.2" width="1.1" height="1.1" fill="#ff1111"/>
<rect x="411.5" y="27.2" width="1.1" height="1.1" fill="#ff1111"/>
<rect x="382.2" y="29.0" width="1.1" height="1.1" fill="#ff1111"/>
<rect x="394.1" y="29.9" width="1.1" height="1.1" fill="#ff1111"/>
<rect x="368.8" y="28.7" width="1.1" height="1.1" fill="#ff1111"/>
<rect x="361.2" y="36.3" width="1.1" height="1.1" fill="#ff1111"/>
<rect x="367.2" y="44.6" width="1.1" height="1.1" fill="#ff1111"/>
<rect x="365.5" y="41.6" width="1.1" height="1.1" fill="#ff1111"/>
<rect x="367.6" y="28.9" width="1.1" height="1.1" fill="#ff1111"/>
<rect x="398.0" y="29.9" width="1.1" height="1.1" fill="#ff1111"/>
<rect x="398.7" y="28.5" width="1.1" height="1.1" fill="#ff1111"/>
<rect x="363.5" y="38.9" width="1.1" height="1.1" fill="#ff1111"/>
<rect x="397.7" y="43.2" width="1.1" height="1.1" fill="#ff1111"/>
<rect x="398.5" y="26.4" width="1.1" height="1.1" fill="#ff1111"/>
<rect x="393.3" y="40.9" width="1.1" height="1.1" fill="#ff1111"/>
<rect x="384.7" y="46.9" width="1.1" height="1.1" fill="#ff1111"/>
<rect x="374.0" y="49.0" width="1.1" height="1.1" fill="#ff1111"/>
<rect x="397.9" y="25.0" width="1.1" height="1.1" fill="#ff1111"/>
<rect x="361.7" y="36.3" width="1.1" height="1.1" fill="#ff1111"/>
<rect x="403.0" y="25.4" width="1.1" height="1.1" fill="#ff1111"/>
<rect x="377.0" y="43.4" width="1.1" height="1.1" fill="#ff1111"/>
<rect x="369.5" y="44.7" width="1.1" height="1.1" fill="#ff1111"/>
<rect x="386.0" y="27.6" width="1.1" height="1.1" fill="#ff1111"/>
<rect x="379.9" y="39.7" width="1.1" height="1.1" fill="#ff1111"/>
<rect x="383.5" y="41.5" width="1.1" height="1.1" fill="#ff1111"/>
<rect x="368.4" y="42.7" width="1.1" height="1.1" fill="#ff1111"/>
<rect x="379.7" y="41.2" width="1.1" height="1.1" fill="#ff1111"/>
<rect x="393.4" y="34.5" width="1.1" height="1.1" fill="#ff1111"/>
<rect x="380.8" y="44.2" width="1.1" height="1.1" fill="#ff1111"/>
<rect x="409.6" y="31.4" width="1.1" height="1.1" fill="#ff1111"/>
<rect x="390.1" y="32.2" width="1.1" height="1.1" fill="#ff1111"/>
<rect x="364.1" y="41.9" width="1.1" height="1.1" fill="#ff1111"/>
<rect x="397.2" y="43.1" width="1.1" height="1.1" fill="#ff1111"/>
<rect x="378.1" y="40.6" width="1.1" height="1.1" fill="#ff1111"/>
<rect x="411.3" y="30.4" width="1.1" height="1.1" fill="#ff1111"/>
<rect x="391.9" y="32.3" width="1.1" height="1.1" fill="#ff1111"/>
<rect x="383.0" y="46.2" width="1.1" height="1.1" fill="#ff1111"/>
<rect x="380.3" y="42.0" width="1.1" height="1.1" fill="#ff1111"/>
<rect x="391.9" y="45.2" width="1.1" height="1.1" fill="#ff1111"/>
<rect x="402.5" y="29.0" width="1.1" height="1.1" fill="#ff1111"/>
<rect x="361.0" y="32.0" width="1.1" height="1.1" fill="#ff1111"/>
<rect x="382.7" y="39.6" width="1.1" height="1.1" fill="#ff1111"/>
<rect x="403.0" y="38.9" width="1.1" height="1.1" fill="#ff1111"/>
<rect x="363.1" y="39.3" width="1.1" height="1.1" fill="#ff1111"/>
<rect x="402.8" y="38.7" width="1.1" height="1.1" fill="#ff1111"/>
<rect x="390.4" y="31.7" width="1.1" height="1.1" fill="#ff1111"/>
<rect x="404.8" y="35.9" width="1.1" height="1.1" fill="#ff1111"/>
<rect x="396.2" y="45.1" width="1.1" height="1.1" fill="#ff1111"/>
<rect x="408.4" y="13.9" width="1.1" height="1.1" fill="#ff1111"/>
<rect x="414.8" y="14.4" width="1.1" height="1.1" fill="#ff1111"/>
<rect x="360.8" y="22.4" width="1.1" height="1.1" fill="#ff1111"/>
<rect x="361.8" y="24.9" width="1.1" height="1.1" fill="#ff1111"/>
<rect x="415.4" y="20.4" width="1.1" height="1.1" fill="#ff1111"/>
<text x="322.3" y="22.2" font-size="11.0" text-anchor="start" fill="#111" >C</text>
<text x="377.0" y="117.0" font-size="8.1" text-anchor="middle" fill="#111" >Green FL Burst Area</text>
<text transform="translate(293.5,51.5) rotate(-90)" font-size="8.1" text-anchor="middle" fill="#111">SS Burst Area</text>
<rect x="314.2" y="129.8" width="120.80000000000001" height="89.39999999999998" fill="none" stroke="#333" stroke-width="1"/>
<line x1="329.0" y1="219.2" x2="329.0" y2="216.79999999999998" stroke="#222" stroke-width="0.9" />
<text x="328.5" y="231.7" font-size="8.8" text-anchor="middle" fill="#111">10<tspan dy="-3.8" font-size="6">7</tspan></text>
<line x1="314.2" y1="207.6" x2="316.59999999999997" y2="207.6" stroke="#222" stroke-width="0.9" />
<text x="310.5" y="210.5" font-size="8.8" text-anchor="end" fill="#111">10<tspan dy="-3.8" font-size="6">7</tspan></text>
<line x1="380.5" y1="219.2" x2="380.5" y2="216.79999999999998" stroke="#222" stroke-width="0.9" />
<text x="380.0" y="231.7" font-size="8.8" text-anchor="middle" fill="#111">10<tspan dy="-3.8" font-size="6">8</tspan></text>
<line x1="314.2" y1="170.0" x2="316.59999999999997" y2="170.0" stroke="#222" stroke-width="0.9" />
<text x="310.5" y="172.9" font-size="8.8" text-anchor="end" fill="#111">10<tspan dy="-3.8" font-size="6">8</tspan></text>
<line x1="432.0" y1="219.2" x2="432.0" y2="216.79999999999998" stroke="#222" stroke-width="0.9" />
<text x="431.5" y="231.7" font-size="8.8" text-anchor="middle" fill="#111">10<tspan dy="-3.8" font-size="6">9</tspan></text>
<line x1="314.2" y1="132.39999999999998" x2="316.59999999999997" y2="132.39999999999998" stroke="#222" stroke-width="0.9" />
<text x="310.5" y="135.29999999999998" font-size="8.8" text-anchor="end" fill="#111">10<tspan dy="-3.8" font-size="6">9</tspan></text>
<line x1="314.2" y1="218.91872783696567" x2="315.59999999999997" y2="218.91872783696567" stroke="#444" stroke-width="0.6" />
<line x1="317.57478939475766" y1="219.2" x2="317.57478939475766" y2="217.79999999999998" stroke="#444" stroke-width="0.6" />
<line x1="314.2" y1="215.941512985575" x2="315.59999999999997" y2="215.941512985575" stroke="#444" stroke-width="0.6" />
<line x1="321.0225490607342" y1="219.2" x2="321.0225490607342" y2="217.79999999999998" stroke="#444" stroke-width="0.6" />
<line x1="314.2" y1="213.42431369546395" x2="315.59999999999997" y2="213.42431369546395" stroke="#444" stroke-width="0.6" />
<line x1="324.0091343300851" y1="219.2" x2="324.0091343300851" y2="217.79999999999998" stroke="#444" stroke-width="0.6" />
<line x1="314.2" y1="211.24381648910293" x2="315.59999999999997" y2="211.24381648910293" stroke="#444" stroke-width="0.6" />
<line x1="326.6434892361252" y1="219.2" x2="326.6434892361252" y2="217.79999999999998" stroke="#444" stroke-width="0.6" />
<line x1="314.2" y1="209.32048164508137" x2="315.59999999999997" y2="209.32048164508137" stroke="#444" stroke-width="0.6" />
<line x1="344.50304477669505" y1="219.2" x2="344.50304477669505" y2="217.79999999999998" stroke="#444" stroke-width="0.6" />
<line x1="314.2" y1="196.2812721630343" x2="315.59999999999997" y2="196.2812721630343" stroke="#444" stroke-width="0.6" />
<line x1="353.5717446180626" y1="219.2" x2="353.5717446180626" y2="217.79999999999998" stroke="#444" stroke-width="0.6" />
<line x1="314.2" y1="189.6602408225407" x2="315.59999999999997" y2="189.6602408225407" stroke="#444" stroke-width="0.6" />
<line x1="360.00608955339004" y1="219.2" x2="360.00608955339004" y2="217.79999999999998" stroke="#444" stroke-width="0.6" />
<line x1="314.2" y1="184.9625443260686" x2="315.59999999999997" y2="184.9625443260686" stroke="#444" stroke-width="0.6" />
<line x1="364.99695522330495" y1="219.2" x2="364.99695522330495" y2="217.79999999999998" stroke="#444" stroke-width="0.6" />
<line x1="314.2" y1="181.31872783696568" x2="315.59999999999997" y2="181.31872783696568" stroke="#444" stroke-width="0.6" />
<line x1="369.07478939475766" y1="219.2" x2="369.07478939475766" y2="217.79999999999998" stroke="#444" stroke-width="0.6" />
<line x1="314.2" y1="178.34151298557498" x2="315.59999999999997" y2="178.34151298557498" stroke="#444" stroke-width="0.6" />
<line x1="372.5225490607342" y1="219.2" x2="372.5225490607342" y2="217.79999999999998" stroke="#444" stroke-width="0.6" />
<line x1="314.2" y1="175.82431369546393" x2="315.59999999999997" y2="175.82431369546393" stroke="#444" stroke-width="0.6" />
<line x1="375.5091343300851" y1="219.2" x2="375.5091343300851" y2="217.79999999999998" stroke="#444" stroke-width="0.6" />
<line x1="314.2" y1="173.6438164891029" x2="315.59999999999997" y2="173.6438164891029" stroke="#444" stroke-width="0.6" />
<line x1="378.1434892361252" y1="219.2" x2="378.1434892361252" y2="217.79999999999998" stroke="#444" stroke-width="0.6" />
<line x1="314.2" y1="171.72048164508138" x2="315.59999999999997" y2="171.72048164508138" stroke="#444" stroke-width="0.6" />
<line x1="396.00304477669505" y1="219.2" x2="396.00304477669505" y2="217.79999999999998" stroke="#444" stroke-width="0.6" />
<line x1="314.2" y1="158.6812721630343" x2="315.59999999999997" y2="158.6812721630343" stroke="#444" stroke-width="0.6" />
<line x1="405.0717446180626" y1="219.2" x2="405.0717446180626" y2="217.79999999999998" stroke="#444" stroke-width="0.6" />
<line x1="314.2" y1="152.0602408225407" x2="315.59999999999997" y2="152.0602408225407" stroke="#444" stroke-width="0.6" />
<line x1="411.5060895533901" y1="219.2" x2="411.5060895533901" y2="217.79999999999998" stroke="#444" stroke-width="0.6" />
<line x1="314.2" y1="147.3625443260686" x2="315.59999999999997" y2="147.3625443260686" stroke="#444" stroke-width="0.6" />
<line x1="416.49695522330495" y1="219.2" x2="416.49695522330495" y2="217.79999999999998" stroke="#444" stroke-width="0.6" />
<line x1="314.2" y1="143.71872783696568" x2="315.59999999999997" y2="143.71872783696568" stroke="#444" stroke-width="0.6" />
<line x1="420.57478939475766" y1="219.2" x2="420.57478939475766" y2="217.79999999999998" stroke="#444" stroke-width="0.6" />
<line x1="314.2" y1="140.74151298557499" x2="315.59999999999997" y2="140.74151298557499" stroke="#444" stroke-width="0.6" />
<line x1="424.02254906073426" y1="219.2" x2="424.02254906073426" y2="217.79999999999998" stroke="#444" stroke-width="0.6" />
<line x1="314.2" y1="138.22431369546393" x2="315.59999999999997" y2="138.22431369546393" stroke="#444" stroke-width="0.6" />
<line x1="427.0091343300851" y1="219.2" x2="427.0091343300851" y2="217.79999999999998" stroke="#444" stroke-width="0.6" />
<line x1="314.2" y1="136.0438164891029" x2="315.59999999999997" y2="136.0438164891029" stroke="#444" stroke-width="0.6" />
<line x1="429.6434892361252" y1="219.2" x2="429.6434892361252" y2="217.79999999999998" stroke="#444" stroke-width="0.6" />
<line x1="314.2" y1="134.12048164508138" x2="315.59999999999997" y2="134.12048164508138" stroke="#444" stroke-width="0.6" />
<line x1="315" y1="218.1" x2="433.5" y2="130.6" stroke="#ff1111" stroke-width="1.1" />
<rect x="314.45" y="216.14999999999998" width="2.1" height="2.1" fill="#111"/>
<rect x="331.15" y="206.45" width="2.1" height="2.1" fill="#111"/>
<rect x="349.75" y="190.95" width="2.1" height="2.1" fill="#111"/>
<rect x="363.95" y="179.25" width="2.1" height="2.1" fill="#111"/>
<rect x="381.95" y="169.64999999999998" width="2.1" height="2.1" fill="#111"/>
<rect x="400.25" y="153.64999999999998" width="2.1" height="2.1" fill="#111"/>
<rect x="413.95" y="140.64999999999998" width="2.1" height="2.1" fill="#111"/>
<rect x="430.95" y="130.64999999999998" width="2.1" height="2.1" fill="#111"/>
<text x="320.6" y="143.8" font-size="11.0" text-anchor="start" fill="#111" >D</text>
<text x="335.3" y="161.8" font-size="8.1" fill="#111">R<tspan dy="-3.6" dx="0.6" font-size="5.8">2</tspan><tspan dy="3.6" dx="1.2" font-size="8.1"> = 0.9904</tspan></text>
<text x="377.1" y="243" font-size="8.1" text-anchor="middle" fill="#111" >Plate Counting (cfu/mL)</text>
<text transform="translate(294.2,170) rotate(-90)" font-size="8.1" text-anchor="middle" fill="#111">HSFCM (cells/mL)</text>
<line x1="466.3" y1="3.3" x2="466.3" y2="94.2" stroke="#222" stroke-width="1" />
<line x1="463.3" y1="93.7" x2="466.3" y2="93.7" stroke="#222" stroke-width="1" />
<text x="463.0" y="97.0" font-size="9.4" text-anchor="end" fill="#111" >0</text>
<line x1="464.3" y1="83.275" x2="466.3" y2="83.275" stroke="#222" stroke-width="1" />
<line x1="463.3" y1="72.85" x2="466.3" y2="72.85" stroke="#222" stroke-width="1" />
<text x="463.0" y="76.14999999999999" font-size="9.4" text-anchor="end" fill="#111" >3</text>
<line x1="464.3" y1="62.425" x2="466.3" y2="62.425" stroke="#222" stroke-width="1" />
<line x1="463.3" y1="52.0" x2="466.3" y2="52.0" stroke="#222" stroke-width="1" />
<text x="463.0" y="55.3" font-size="9.4" text-anchor="end" fill="#111" >6</text>
<line x1="464.3" y1="41.575" x2="466.3" y2="41.575" stroke="#222" stroke-width="1" />
<line x1="463.3" y1="31.15" x2="466.3" y2="31.15" stroke="#222" stroke-width="1" />
<text x="463.0" y="34.449999999999996" font-size="9.4" text-anchor="end" fill="#111" >9</text>
<line x1="464.3" y1="20.724999999999998" x2="466.3" y2="20.724999999999998" stroke="#222" stroke-width="1" />
<line x1="463.3" y1="10.299999999999997" x2="466.3" y2="10.299999999999997" stroke="#222" stroke-width="1" />
<text x="463.0" y="13.599999999999998" font-size="9.4" text-anchor="end" fill="#111" >12</text>
<line x1="465.8" y1="93.7" x2="587.5" y2="93.7" stroke="#222" stroke-width="1" />
<rect x="468.4" y="14.70" width="8.2" height="79.00" fill="#000"/>
<line x1="472.5" y1="13.657500000000002" x2="472.5" y2="14.700000000000003" stroke="#222" stroke-width="0.8" />
<line x1="470.9" y1="13.657500000000002" x2="474.1" y2="13.657500000000002" stroke="#222" stroke-width="0.8" />
<text x="472.0" y="104.4" font-size="9.0" text-anchor="middle" fill="#111" >1</text>
<rect x="488.7" y="20.30" width="8.2" height="73.40" fill="#000"/>
<line x1="492.8" y1="19.604999999999997" x2="492.8" y2="20.299999999999997" stroke="#222" stroke-width="0.8" />
<line x1="491.2" y1="19.604999999999997" x2="494.40000000000003" y2="19.604999999999997" stroke="#222" stroke-width="0.8" />
<text x="492.3" y="104.4" font-size="9.0" text-anchor="middle" fill="#111" >2</text>
<rect x="508.5" y="14.20" width="8.2" height="79.50" fill="#000"/>
<line x1="512.6" y1="13.365999999999989" x2="512.6" y2="14.199999999999989" stroke="#222" stroke-width="0.8" />
<line x1="511.0" y1="13.365999999999989" x2="514.2" y2="13.365999999999989" stroke="#222" stroke-width="0.8" />
<text x="512.1" y="104.4" font-size="9.0" text-anchor="middle" fill="#111" >3</text>
<rect x="528.6" y="20.80" width="8.2" height="72.90" fill="#000"/>
<line x1="532.7" y1="19.757499999999997" x2="532.7" y2="20.799999999999997" stroke="#222" stroke-width="0.8" />
<line x1="531.1" y1="19.757499999999997" x2="534.3000000000001" y2="19.757499999999997" stroke="#222" stroke-width="0.8" />
<text x="532.2" y="104.4" font-size="9.0" text-anchor="middle" fill="#111" >4</text>
<rect x="548.6999999999999" y="13.80" width="8.2" height="79.90" fill="#000"/>
<line x1="552.8" y1="11.297999999999982" x2="552.8" y2="13.799999999999983" stroke="#222" stroke-width="0.8" />
<line x1="551.1999999999999" y1="11.297999999999982" x2="554.4" y2="11.297999999999982" stroke="#222" stroke-width="0.8" />
<text x="552.3" y="104.4" font-size="9.0" text-anchor="middle" fill="#111" >5</text>
<rect x="576.9" y="16.30" width="8.2" height="77.40" fill="#ff1111"/>
<line x1="581" y1="12.477499999999997" x2="581" y2="20.1225" stroke="#222" stroke-width="0.8" />
<line x1="579.4" y1="12.477499999999997" x2="582.6" y2="12.477499999999997" stroke="#222" stroke-width="0.8" />
<line x1="579.4" y1="20.1225" x2="582.6" y2="20.1225" stroke="#222" stroke-width="0.8" />
<text x="581.3" y="104.4" font-size="8.2" text-anchor="middle" fill="#111" >Average</text>
<text x="524.3" y="114.5" font-size="8.1" text-anchor="middle" fill="#111" >HSFCM</text>
<text x="482" y="12.2" font-size="11.0" text-anchor="start" fill="#111" >E</text>
<text x="578" y="7.9" font-size="8.8" text-anchor="middle" fill="#111" >11.2 ± 0.5</text>
<text transform="translate(452.4,78.3) rotate(-90)" font-size="8.8" text-anchor="middle" fill="#111">×</text>
<text transform="translate(452.4,68.3) rotate(-90)" font-size="8.8" text-anchor="middle" fill="#111">10</text>
<text transform="translate(448.2,61.400000000000006) rotate(-90)" font-size="6" text-anchor="middle" fill="#111">8</text>
<text transform="translate(452.4,38.1) rotate(-90)" font-size="8.8" text-anchor="middle" fill="#111">cells/mL</text>
<line x1="468.8" y1="129.7" x2="468.8" y2="220.0" stroke="#222" stroke-width="1" />
<line x1="465.8" y1="219.5" x2="468.8" y2="219.5" stroke="#222" stroke-width="1" />
<text x="465.5" y="222.8" font-size="9.4" text-anchor="end" fill="#111" >0</text>
<line x1="466.8" y1="209.065" x2="468.8" y2="209.065" stroke="#222" stroke-width="1" />
<line x1="465.8" y1="198.63" x2="468.8" y2="198.63" stroke="#222" stroke-width="1" />
<text x="465.5" y="201.93" font-size="9.4" text-anchor="end" fill="#111" >3</text>
<line x1="466.8" y1="188.195" x2="468.8" y2="188.195" stroke="#222" stroke-width="1" />
<line x1="465.8" y1="177.76" x2="468.8" y2="177.76" stroke="#222" stroke-width="1" />
<text x="465.5" y="181.06" font-size="9.4" text-anchor="end" fill="#111" >6</text>
<line x1="466.8" y1="167.325" x2="468.8" y2="167.325" stroke="#222" stroke-width="1" />
<line x1="465.8" y1="156.89" x2="468.8" y2="156.89" stroke="#222" stroke-width="1" />
<text x="465.5" y="160.19" font-size="9.4" text-anchor="end" fill="#111" >9</text>
<line x1="466.8" y1="146.45499999999998" x2="468.8" y2="146.45499999999998" stroke="#222" stroke-width="1" />
<line x1="465.8" y1="136.01999999999998" x2="468.8" y2="136.01999999999998" stroke="#222" stroke-width="1" />
<text x="465.5" y="139.32" font-size="9.4" text-anchor="end" fill="#111" >12</text>
<line x1="468.3" y1="219.5" x2="589.2" y2="219.5" stroke="#222" stroke-width="1" />
<rect x="470.9" y="139.70" width="8.2" height="79.80" fill="#000"/>
<line x1="475" y1="134.13466666666665" x2="475" y2="139.7" stroke="#222" stroke-width="0.8" />
<line x1="473.4" y1="134.13466666666665" x2="476.6" y2="134.13466666666665" stroke="#222" stroke-width="0.8" />
<text x="474.5" y="230.2" font-size="9.0" text-anchor="middle" fill="#111" >1</text>
<rect x="490.9" y="141.00" width="8.2" height="78.50" fill="#000"/>
<line x1="495" y1="135.01726666666667" x2="495" y2="141.0" stroke="#222" stroke-width="0.8" />
<line x1="493.4" y1="135.01726666666667" x2="496.6" y2="135.01726666666667" stroke="#222" stroke-width="0.8" />
<text x="494.5" y="230.2" font-size="9.0" text-anchor="middle" fill="#111" >2</text>
<rect x="510.69999999999993" y="139.30" width="8.2" height="80.20" fill="#000"/>
<line x1="514.8" y1="136.30863333333335" x2="514.8" y2="139.3" stroke="#222" stroke-width="0.8" />
<line x1="513.1999999999999" y1="136.30863333333335" x2="516.4" y2="136.30863333333335" stroke="#222" stroke-width="0.8" />
<text x="514.3" y="230.2" font-size="9.0" text-anchor="middle" fill="#111" >3</text>
<rect x="530.9" y="136.80" width="8.2" height="82.70" fill="#000"/>
<line x1="535" y1="133.80863333333335" x2="535" y2="136.8" stroke="#222" stroke-width="0.8" />
<line x1="533.4" y1="133.80863333333335" x2="536.6" y2="133.80863333333335" stroke="#222" stroke-width="0.8" />
<text x="534.5" y="230.2" font-size="9.0" text-anchor="middle" fill="#111" >4</text>
<rect x="550.9" y="141.00" width="8.2" height="78.50" fill="#000"/>
<line x1="555" y1="137.73036666666667" x2="555" y2="141.0" stroke="#222" stroke-width="0.8" />
<line x1="553.4" y1="137.73036666666667" x2="556.6" y2="137.73036666666667" stroke="#222" stroke-width="0.8" />
<text x="554.5" y="230.2" font-size="9.0" text-anchor="middle" fill="#111" >5</text>
<rect x="579.1" y="139.30" width="8.2" height="80.20" fill="#ff1111"/>
<line x1="583.2" y1="138.25650000000002" x2="583.2" y2="140.3435" stroke="#222" stroke-width="0.8" />
<line x1="581.6" y1="138.25650000000002" x2="584.8000000000001" y2="138.25650000000002" stroke="#222" stroke-width="0.8" />
<line x1="581.6" y1="140.3435" x2="584.8000000000001" y2="140.3435" stroke="#222" stroke-width="0.8" />
<text x="583.5" y="230.2" font-size="8.2" text-anchor="middle" fill="#111" >Average</text>
<text x="523" y="243" font-size="8.1" text-anchor="middle" fill="#111" >Plate Counting</text>
<text x="481.5" y="127.8" font-size="11.0" text-anchor="start" fill="#111" >F</text>
<text x="581" y="133.1" font-size="8.8" text-anchor="middle" fill="#111" >11.6 ± 0.2</text>
<text transform="translate(453.9,204.89999999999998) rotate(-90)" font-size="8.8" text-anchor="middle" fill="#111">×</text>
<text transform="translate(453.9,194.89999999999998) rotate(-90)" font-size="8.8" text-anchor="middle" fill="#111">10</text>
<text transform="translate(449.7,188.0) rotate(-90)" font-size="6" text-anchor="middle" fill="#111">8</text>
<text transform="translate(453.9,168.29999999999998) rotate(-90)" font-size="8.8" text-anchor="middle" fill="#111">cfu/mL</text>
</svg>
</body></html>
